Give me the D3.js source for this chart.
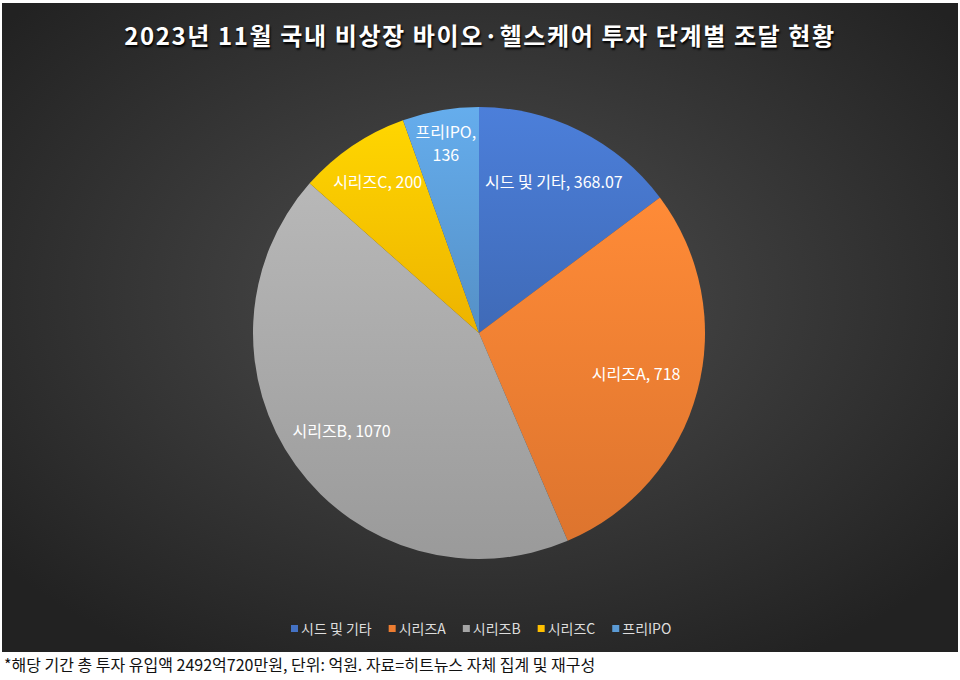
<!DOCTYPE html><html><head><meta charset="utf-8"><script src="https://cdn.jsdelivr.net/npm/d3@7"></script>
<style>body{margin:0;background:#fff;font-family:"Noto Sans CJK KR","Noto Sans",sans-serif}</style></head><body><svg id="c" width="960" height="680"></svg><script>
const categories=["시드 및 기타","시리즈A","시리즈B","시리즈C","프리IPO"];
const values=[368.07,718,1070,200,136];
const legendLabels=["시드 및 기타","시리즈A","시리즈B","시리즈C","프리IPO"];
const colors=["#4472c4","#ed7d31","#a5a5a5","#ffc000","#5b9bd5"];
const svg=d3.select("#c");
const defs=svg.append("defs");
const bg=defs.append("radialGradient").attr("id","bg").attr("cx","50%").attr("cy","45%").attr("r","65%");
bg.append("stop").attr("offset","0%").attr("stop-color","#4e4e4e");
bg.append("stop").attr("offset","100%").attr("stop-color","#222");
colors.forEach((c,i)=>{const g=defs.append("linearGradient").attr("id","g"+i).attr("x1",0).attr("y1",0).attr("x2",0).attr("y2",1);
g.append("stop").attr("offset","0%").attr("stop-color",d3.color(c).brighter(0.3));
g.append("stop").attr("offset","100%").attr("stop-color",d3.color(c).darker(0.2));});
svg.append("rect").attr("x",2).attr("y",3).attr("width",956).attr("height",649).attr("fill","url(#bg)");
svg.append("text").attr("x",480).attr("y",45).attr("text-anchor","middle").attr("fill","#fff").attr("font-size",24).attr("font-weight",700).attr("letter-spacing",1.6).attr("style","text-shadow:1px 2px 2px #000").text("2023년 11월 국내 비상장 바이오·헬스케어 투자 단계별 조달 현황");
const cx=479,cy=333,R=226;
const pie=d3.pie().sort(null)(values);
const arc=d3.arc().innerRadius(0).outerRadius(R);
const g=svg.append("g").attr("transform",`translate(${cx},${cy})`);
g.selectAll("path").data(pie).join("path").attr("d",arc).attr("fill",(d,i)=>`url(#g${i})`);
const lr=[0.74,0.72,0.75,0.8,0.86];
pie.forEach((d,i)=>{const a=d3.arc().innerRadius(R*lr[i]).outerRadius(R*lr[i]);const [x,y]=a.centroid(d);
const t=g.append("text").attr("x",x).attr("y",y).attr("text-anchor","middle").attr("fill","#fff").attr("font-size",16);
if(i===4){t.append("tspan").attr("x",x).attr("dy",-4).text(categories[i]+",");t.append("tspan").attr("x",x).attr("dy",23).text(values[i]);}
else t.attr("dy",5).text(categories[i]+", "+values[i]);});
const lg=svg.append("g");let lx=291;
legendLabels.forEach((l,i)=>{lg.append("rect").attr("x",lx).attr("y",625).attr("width",7).attr("height",7).attr("fill",colors[i]);
const t=lg.append("text").attr("x",lx+10).attr("y",634).attr("fill","#ddd").attr("font-size",14).text(l);
lx+=t.node().getComputedTextLength()+27;});
svg.append("text").attr("x",4).attr("y",671).attr("fill","#111").attr("font-size",16).text("*해당 기간 총 투자 유입액 2492억720만원, 단위: 억원. 자료=히트뉴스 자체 집계 및 재구성");
</script></body></html>
